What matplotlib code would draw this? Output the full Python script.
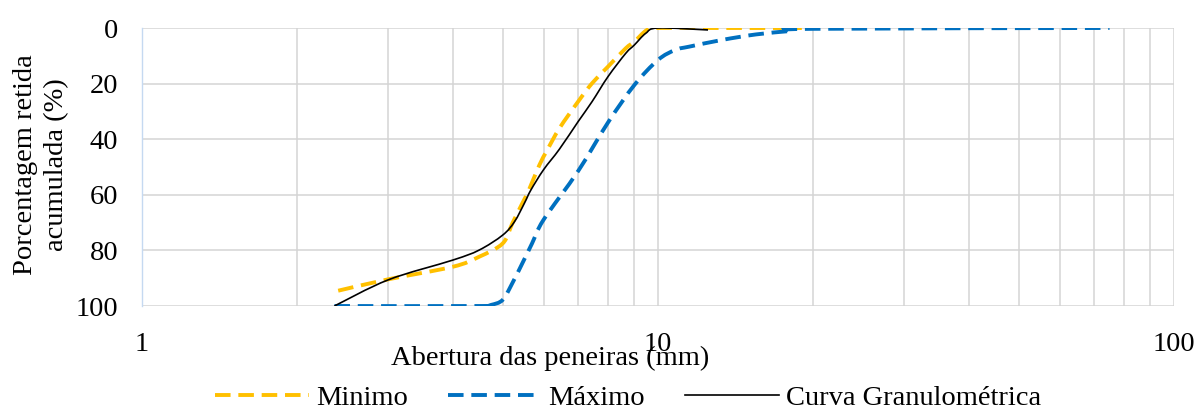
"""Curva granulométrica com limites mínimo e máximo."""

import matplotlib

matplotlib.use("Agg")
import matplotlib.pyplot as plt
import numpy as np
from matplotlib.lines import Line2D
from matplotlib.patches import PathPatch
from matplotlib.path import Path
from matplotlib.ticker import FixedLocator, FuncFormatter, NullFormatter

# abertura (mm) / porcentagem retida acumulada (%)
minimo_x = [2.4, 3, 4, 4.5, 5, 5.22, 5.46, 5.62, 5.89, 6.1, 6.44, 7, 7.45, 8,
            8.66, 9, 9.52, 10, 12.5, 19]
minimo_y = [94.5, 90.4, 85.9, 82.3, 77.5, 70.3, 63, 58.3, 49.3, 43.9, 36.1, 26.5,
            19.9, 13.9, 7.3, 4.9, 0.7, 0, 0, 0]

maximo_x = [2.36, 4.54, 4.75, 5, 5.22, 5.46, 5.7, 6, 7, 8, 9, 10,
            10.8, 11.5, 13.3, 15.5, 18, 20, 75]
maximo_y = [100, 100, 99.6, 97.8, 91.8, 84.6, 77.5, 69, 51.5, 34, 20.5, 11.5,
            7.9, 6.7, 4.3, 2.3, 1.1, 0.3, 0]

curva_x = [2.36, 3, 4, 4.5, 5, 5.27, 5.51, 5.67, 6, 6.44, 7, 7.45, 8, 8.66, 9,
           9.47, 10, 12.5]
curva_y = [100, 90.6, 83.5, 79.9, 74.5, 69.7, 63, 58.3, 51, 43.6, 33.7, 26.5, 17.5,
           9.1, 6.1, 1.9, 0, 0.7]

x_ticks = [1, 10, 100]
y_ticks = [0, 20, 40, 60, 80, 100]


def smooth_path(xs, ys):
    """Excel-like smoothed line: Catmull-Rom segments as cubic Beziers (log x)."""
    lx = np.log10(np.asarray(xs, dtype=float))
    y = np.asarray(ys, dtype=float)
    pts = np.column_stack([lx, y])
    ext = np.vstack([pts[0], pts, pts[-1]])
    verts = [pts[0]]
    codes = [Path.MOVETO]
    for i in range(1, len(ext) - 2):
        p0, p1, p2, p3 = ext[i - 1], ext[i], ext[i + 1], ext[i + 2]
        c1 = p1 + (p2 - p0) / 6.0
        c2 = p2 - (p3 - p1) / 6.0
        verts += [c1, c2, p2]
        codes += [Path.CURVE4] * 3
    verts = np.array(verts)
    verts[:, 0] = 10 ** verts[:, 0]
    return Path(verts, codes)


plt.rcParams["font.family"] = ["Liberation Serif", "DejaVu Serif"]
plt.rcParams["font.size"] = 20.5

fig = plt.figure(figsize=(12, 4.12), dpi=100)
ax = fig.add_axes([142 / 1200, 1 - 306 / 412, (1174 - 142) / 1200, (306 - 28) / 412])

series = [
    (minimo_x, minimo_y, dict(color="#FFC000", lw=2.8, ls=(0, (4, 2))), "Minimo"),
    (maximo_x, maximo_y, dict(color="#0070C0", lw=2.8, ls=(0, (4, 2))), "Máximo"),
    (curva_x, curva_y, dict(color="black", lw=1.2, ls="-"), "Curva Granulométrica"),
]

handles = []
for xs, ys, style, label in series:
    patch = PathPatch(
        smooth_path(xs, ys),
        fill=False,
        edgecolor=style["color"],
        linewidth=style["lw"],
        linestyle=style["ls"],
        capstyle="butt",
        zorder=3,
    )
    ax.add_patch(patch)
    handles.append(
        Line2D([], [], color=style["color"], lw=style["lw"], ls=style["ls"], label=label)
    )

ax.set_xscale("log")
ax.set_xlim(1, 100)
ax.set_ylim(100, 0)
ax.xaxis.set_major_locator(FixedLocator(x_ticks))
ax.xaxis.set_major_formatter(FuncFormatter(lambda v, p: f"{v:g}"))
ax.xaxis.set_minor_locator(FixedLocator([k * d for d in (1, 10) for k in range(2, 10)]))
ax.xaxis.set_minor_formatter(NullFormatter())
ax.set_yticks(y_ticks)

ax.grid(True, which="both", color="#d4d4d4", lw=1.1)
ax.set_axisbelow(True)
ax.tick_params(axis="both", which="both", length=0)
ax.tick_params(axis="y", pad=17)
ax.tick_params(axis="x", pad=19)

for side in ("top", "right", "bottom"):
    ax.spines[side].set_visible(False)
ax.spines["left"].set_color("#c5d9f1")
ax.spines["left"].set_linewidth(1.0)

ax.set_ylabel("Porcentagem retida\nacumulada (%)", linespacing=1.3, va="center")
ax.yaxis.set_label_coords(-0.098, 0.507)
fig.text(550 / 1200, 1 - 358 / 412, "Abertura das peneiras (mm)", ha="center", va="center")

fig.legend(
    handles=handles,
    loc="center",
    bbox_to_anchor=(628 / 1200, 1 - 398 / 412),
    ncol=3,
    frameon=False,
    handlelength=3.3,
    handletextpad=0.25,
    columnspacing=1.4,
    borderpad=0,
)

fig.savefig("out.png", dpi=100)
